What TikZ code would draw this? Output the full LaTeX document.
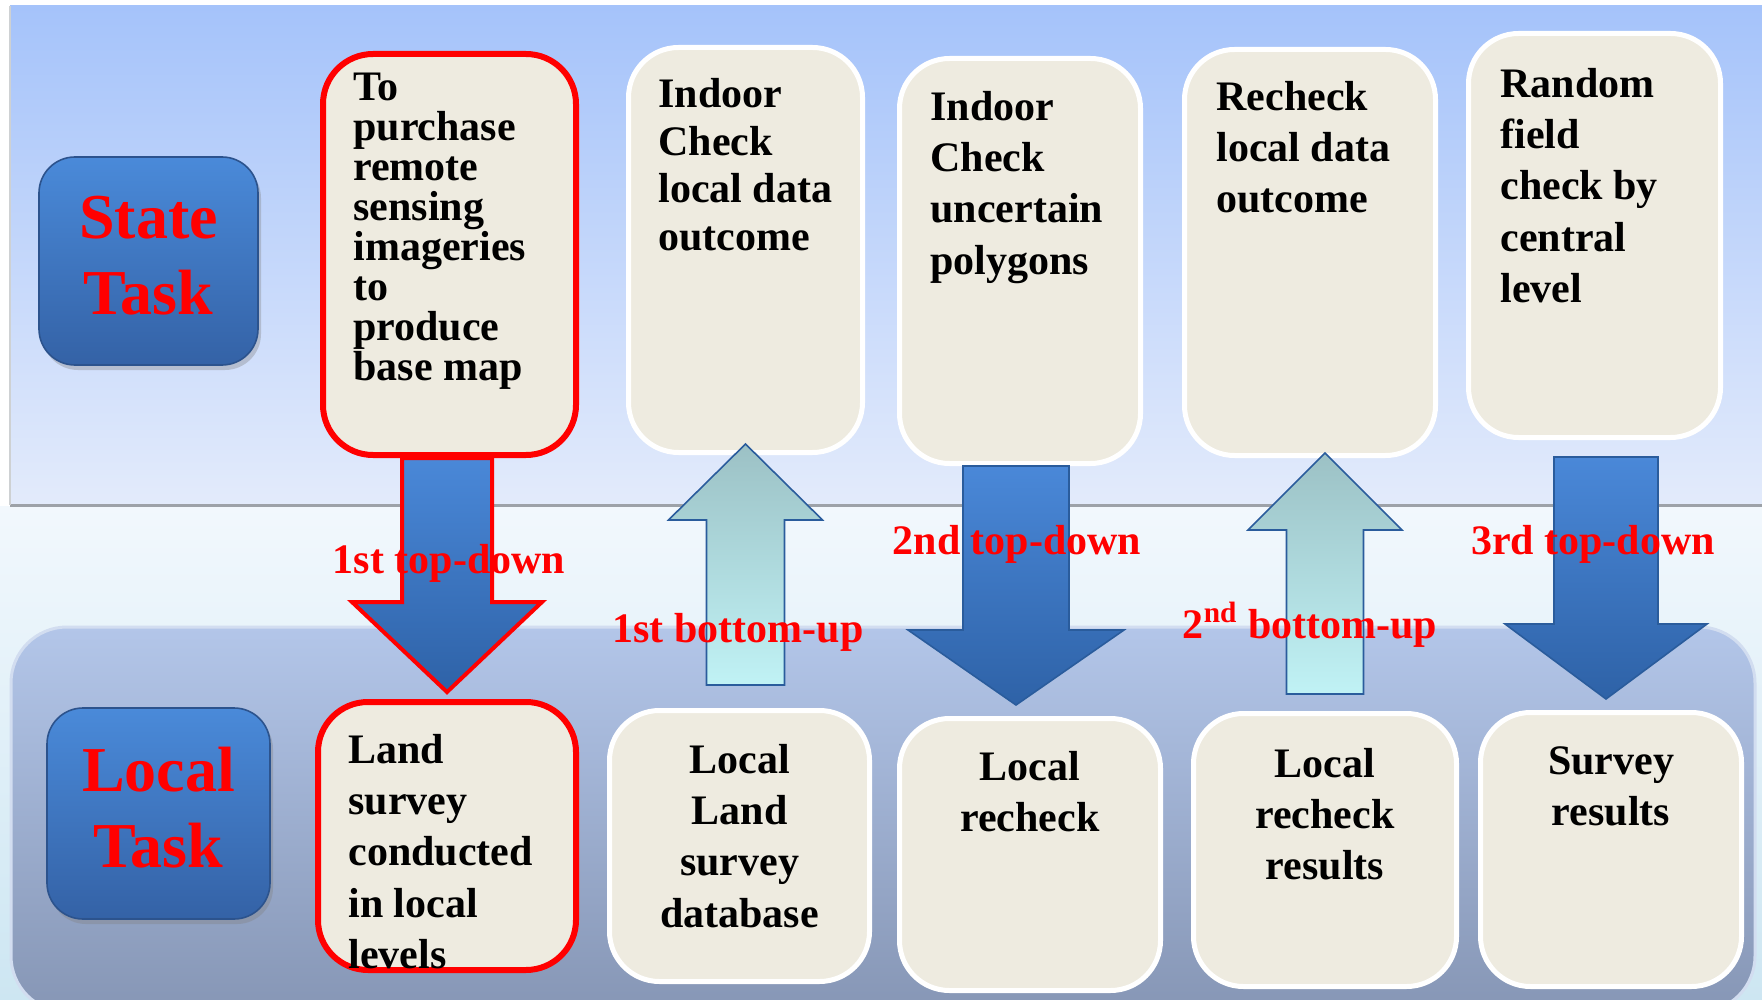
\documentclass[tikz,border=0pt]{standalone}
\usepackage{fontspec}
\setmainfont{Liberation Serif}
\usetikzlibrary{calc,shadows}

\definecolor{topbg}{HTML}{A5C3FA}
\definecolor{topbg2}{HTML}{E3EBFB}
\definecolor{midbg}{HTML}{F2F8FD}
\definecolor{midbg2}{HTML}{CDE6F2}
\definecolor{lowbg}{HTML}{B3C6E9}
\definecolor{lowbg2}{HTML}{8696B5}
\definecolor{lowedge}{HTML}{D2DDF0}
\definecolor{cream}{HTML}{EEEBE0}
\definecolor{taskblue}{HTML}{4A8AD9}
\definecolor{taskblue2}{HTML}{3462A6}
\definecolor{arrblue}{HTML}{4A88D8}
\definecolor{arrblue2}{HTML}{2E62A7}
\definecolor{arrline}{HTML}{2A5C9C}
\definecolor{upcyan}{HTML}{9CC1C5}
\definecolor{upcyan2}{HTML}{C0F2F5}
\definecolor{rimgray}{HTML}{9DA2A8}

\tikzset{
    card/.style={draw=white, line width=2.5pt, fill=cream, rounded corners=25pt, inner sep=0pt},
    redcard/.style={card, draw=red, line width=3pt},
    taskbox/.style={draw=taskblue2!85!black, line width=0.8pt, top color=taskblue, bottom color=taskblue2,
        rounded corners=18pt, text=red, align=center, font=\fontsize{32}{38}\selectfont\bfseries,
        drop shadow={opacity=.35, shadow xshift=1.5pt, shadow yshift=-2.5pt}},
    cardtxt/.style={inner sep=0pt, font=\fontsize{21}{25.6}\selectfont\bfseries},
    arrlbl/.style={text=red, inner sep=0pt, anchor=base, font=\fontsize{21}{25}\selectfont\bfseries},
    arrdown/.style={top color=arrblue, bottom color=arrblue2, draw=arrline, line width=0.8pt},
    arrup/.style={top color=upcyan, bottom color=upcyan2, draw=arrline, line width=0.8pt},
    downblk/.style n args={3}{to path={let \p1=(\tikztostart), \p2=(\tikztotarget) in
        (\x2-#1,\y1) -- (\x2+#1,\y1) -- (\x2+#1,\y2+#3) -- (\x2+#2,\y2+#3) -- (\p2)
        -- (\x2-#2,\y2+#3) -- (\x2-#1,\y2+#3) -- cycle}},
    upblk/.style n args={3}{to path={let \p1=(\tikztostart), \p2=(\tikztotarget) in
        (\x2-#1,\y1) -- (\x2+#1,\y1) -- (\x2+#1,\y2-#3) -- (\x2+#2,\y2-#3) -- (\p2)
        -- (\x2-#2,\y2-#3) -- (\x2-#1,\y2-#3) -- cycle}}
}

\begin{document}
\begin{tikzpicture}[x=0.5pt, y=-0.5pt]
    \useasboundingbox (0,0) rectangle (1762,1000);
% Panels
    \fill[white] (0,0) rectangle (1762,1000);
    \fill[top color=midbg, bottom color=midbg2] (0,506) rectangle (1762,1000);
    \fill[top color=topbg, bottom color=topbg2] (10,6) rectangle (1762,506);
    \draw[line width=1.5pt, rimgray] (10,505) -- (1762,505);
    \draw[line width=0.6pt, rimgray!50] (10,6) -- (10,505);
    \draw[draw=lowedge, line width=1.5pt, top color=lowbg, bottom color=lowbg2, rounded corners=28pt]
        (11,627) rectangle (1755,1012);
% Levels
    \node[taskbox, minimum width=109.5pt, minimum height=104pt] (st) at (148.5,261) {State\\Task\rule[-6pt]{0pt}{6pt}};
    \node[taskbox, minimum width=111.5pt, minimum height=105.5pt] (lt) at (158.5,813.5) {Local\\Task\rule[-6pt]{0pt}{6pt}};
% State cards
    \node[redcard, minimum width=126.5pt, minimum height=200.5pt] (t1) at (449.5,254.5) {};
    \node[card, minimum width=117pt, minimum height=202.5pt] (t2) at (745.5,250) {};
    \node[card, minimum width=120.5pt, minimum height=202.5pt] (t3) at (1020,261) {};
    \node[card, minimum width=125.5pt, minimum height=203pt] (t4) at (1310,252.5) {};
    \node[card, minimum width=126pt, minimum height=202pt] (t5) at (1594.5,235.5) {};
% Local cards
    \node[redcard, minimum width=129pt, minimum height=134pt] (b1) at (447,836) {};
    \node[card, minimum width=130pt, minimum height=135.5pt] (b2) at (739.5,846) {};
    \node[card, minimum width=130.5pt, minimum height=136pt] (b3) at (1030,854.5) {};
    \node[card, minimum width=131.5pt, minimum height=136.5pt] (b4) at (1325,850) {};
    \node[card, minimum width=130.5pt, minimum height=137pt] (b5) at (1611,849.5) {};
% Card texts
    \node[cardtxt, align=left, anchor=north west, font=\fontsize{21}{20}\selectfont\bfseries] (t1txt)
        at ($(t1.north west)+(33,22)$) {To\\purchase\\remote\\sensing\\imageries\\to\\produce\\base map};
    \node[cardtxt, align=left, anchor=north west, font=\fontsize{21}{23.8}\selectfont\bfseries] (t2txt)
        at ($(t2.north west)+(32,33)$) {Indoor\\Check\\local data\\outcome};
    \node[cardtxt, align=left, anchor=north west] (t3txt)
        at ($(t3.north west)+(33,35)$) {Indoor\\Check\\uncertain\\polygons};
    \node[cardtxt, align=left, anchor=north west] (t4txt)
        at ($(t4.north west)+(34,34)$) {Recheck\\local data\\outcome};
    \node[cardtxt, align=left, anchor=north west] (t5txt)
        at ($(t5.north west)+(34,37)$) {Random\\field\\check by\\central\\level};
    \node[cardtxt, align=left, anchor=north west] (b1txt)
        at ($(b1.north west)+(33,35)$) {Land\\survey\\conducted\\in local\\levels};
    \node[cardtxt, align=center, anchor=north] (b2txt) at ($(b2.north)+(0,36)$) {Local\\Land\\survey\\database};
    \node[cardtxt, align=center, anchor=north] (b3txt) at ($(b3.north)+(0,35)$) {Local\\recheck};
    \node[cardtxt, align=center, anchor=north] (b4txt) at ($(b4.north)+(0,37)$) {Local\\recheck\\results};
    \node[cardtxt, align=center, anchor=north] (b5txt) at ($(b5.north)+(0,36)$) {Survey\\results};
% Top-down and bottom-up arrows
    \draw[arrdown, draw=red, line width=2pt, downblk={22.5pt}{47.5pt}{45pt}] (t1.south) to ($(b1.north)+(0,-7)$);
    \draw[arrup, upblk={19.5pt}{38.5pt}{38pt}] ($(b2.north)+(0,-23)$) to ($(t2.south)+(0,-11)$);
    \draw[arrdown, downblk={26.5pt}{54pt}{37.5pt}] (t3.south) to ($(b3.north)+(-14,-11)$);
    \draw[arrup, upblk={19.25pt}{38.5pt}{38.5pt}] ($(b4.north)+(0,-17)$) to ($(t4.south)+(15,-5)$);
    \draw[arrdown, downblk={26pt}{50.5pt}{37.5pt}] ($(t5.south)+(0,17)$) to ($(b5.north)+(-5,-11)$);
% Labels
    \node[arrlbl] (l1) at (449,573) {1st top-down};
    \node[arrlbl] (l2) at (1017,554) {2nd top-down};
    \node[arrlbl] (l3) at (1593,554) {3rd top-down};
    \node[arrlbl] (l4) at (738,642) {1st bottom-up};
    \node[arrlbl] (l5) at (1310,638) {2\textsuperscript{nd} bottom-up};
\end{tikzpicture}
\end{document}
